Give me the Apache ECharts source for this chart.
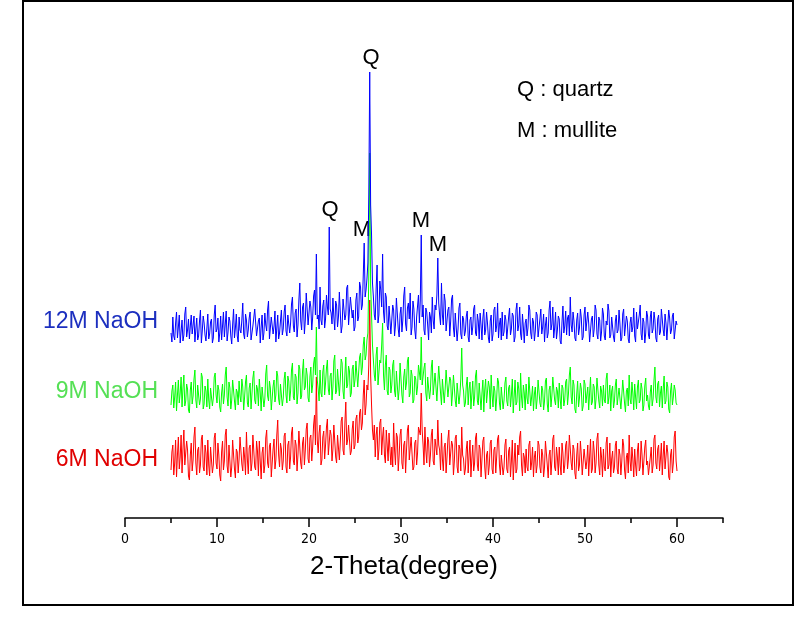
<!DOCTYPE html>
<html>
<head>
<meta charset="utf-8">
<script src="https://cdn.jsdelivr.net/npm/echarts@6/dist/echarts.min.js"></script>
<style>
html,body{margin:0;padding:0;background:#fff;}
#chart{width:795px;height:627px;}
</style>
</head>
<body>
<div id="chart"></div>
<script>
// Sampling of the scans: 2-theta from 5.0 to 60.0 deg, every 0.1 deg
const thetaStart = 5.0;
const thetaStep = 0.1;

// Intensity above each pattern's own baseline
const blue12M = [
12,3,28,9,5,22,33,7,18,30,2,14,25,4,10,31,38,8,15,26,6,19,30,11,20,29,3,16,27,5,9,24,35,2,14,29,22,10,4,17,
31,6,11,23,26,2,7,30,40,13,16,27,3,12,29,5,19,33,8,21,34,4,13,28,24,9,1,20,36,7,17,31,9,3,28,15,12,25,42,11,
6,31,25,8,15,27,33,5,4,19,21,36,38,9,10,24,27,2,18,30,5,12,32,20,14,35,44,6,8,28,26,11,19,34,3,17,30,6,12,24,
35,10,16,33,40,14,9,30,28,12,22,41,48,19,13,32,36,8,20,45,62,24,15,38,42,11,25,52,50,20,18,44,38,15,28,49,55,30,91,26,
30,16,58,25,20,39,45,17,26,50,38,30,118,36,32,21,47,28,15,44,40,18,28,53,55,12,19,46,44,25,30,57,60,20,22,48,50,27,35,14,
18,45,52,24,28,63,58,35,40,70,102,48,55,66,82,150,273,140,110,62,48,30,25,57,80,22,30,64,55,38,91,33,22,52,48,19,15,39,40,11,
12,40,35,9,20,47,45,16,8,31,38,13,25,49,58,21,14,37,42,26,52,10,18,44,36,15,6,28,30,50,22,45,110,28,40,15,10,37,33,20,
5,33,28,12,48,25,16,40,35,50,87,42,30,20,62,30,20,51,44,14,12,35,38,9,24,46,50,17,8,32,30,4,16,37,42,11,6,29,26,9,
14,29,34,8,3,25,28,10,18,36,40,12,9,31,24,6,32,20,5,27,36,10,15,33,22,7,2,24,30,4,11,35,38,13,19,42,7,21,27,5,
33,9,13,30,25,6,4,28,37,10,16,32,29,3,8,35,42,14,20,38,11,5,31,18,2,22,26,9,17,40,35,12,6,27,23,4,14,33,30,8,
9,26,36,11,18,31,3,20,28,7,12,35,44,15,21,38,7,17,33,6,15,29,26,4,1,23,39,12,19,34,10,27,30,9,48,20,13,33,24,7,
4,25,32,10,17,36,27,5,8,30,38,14,12,33,22,3,2,26,29,8,16,40,35,11,6,28,25,4,13,37,31,9,5,24,20,41,34,7,10,28,
26,8,3,24,30,12,15,35,21,4,7,31,36,9,11,29,24,6,2,22,28,13,18,37,9,3,33,16,14,30,40,11,5,27,23,2,12,34,29,10,
6,28,34,12,16,33,25,7,3,26,30,10,13,36,38,15,9,31,22,5,4,35,27,11,15,29,32,6,8,24,20
];
const green9M = [
10,24,30,7,18,33,4,20,35,12,22,38,8,27,40,9,14,31,26,5,2,25,33,11,19,36,45,15,7,30,28,10,16,42,38,6,11,29,24,8,
36,15,6,27,29,9,17,38,42,20,12,30,25,8,3,22,31,11,20,40,48,18,9,33,27,6,15,35,37,14,5,26,23,10,34,19,13,36,28,5,
18,33,40,12,8,27,32,6,21,37,44,15,11,30,26,9,36,22,4,28,30,8,16,41,50,19,14,34,27,5,7,29,35,13,20,44,39,16,10,31,
29,9,17,36,43,20,12,39,34,14,24,45,52,18,15,41,38,11,22,50,46,16,19,44,56,25,28,47,40,17,13,38,48,22,30,51,58,40,88,35,
26,14,45,22,18,43,50,20,32,47,55,26,20,39,42,15,28,54,60,21,24,46,48,19,35,56,52,24,16,40,58,27,30,49,44,18,22,46,50,28,
35,54,56,28,30,58,62,40,48,70,78,55,60,75,82,140,262,130,100,70,55,40,34,60,68,30,28,55,52,70,92,40,25,50,60,24,20,48,45,22,
30,50,55,24,18,44,42,15,26,52,50,20,12,38,46,25,32,54,58,18,22,45,40,12,15,39,36,20,28,50,48,35,78,30,30,47,52,22,14,38,
40,16,25,48,55,20,18,42,44,14,32,49,50,22,10,36,38,12,26,45,46,18,16,38,35,9,22,40,42,14,8,32,30,11,20,36,67,30,24,8,
12,30,38,10,26,33,6,20,34,9,18,39,45,14,10,32,30,5,22,35,3,25,36,12,14,34,28,6,40,20,8,29,24,4,17,37,33,12,5,28,
27,6,15,32,38,14,9,27,30,8,20,36,2,19,35,10,13,33,26,4,42,18,7,30,22,5,31,17,11,38,36,9,18,29,4,21,28,6,16,35,
33,12,8,29,25,5,14,34,37,11,3,25,29,8,19,38,40,15,10,28,24,7,32,16,6,30,27,9,15,33,36,10,21,40,48,18,11,35,30,6,
2,21,34,8,17,32,26,4,9,35,31,12,20,28,5,22,38,10,13,31,28,6,16,37,35,14,7,29,24,9,30,15,12,36,42,11,18,30,4,24,
29,7,14,30,36,10,8,27,25,6,19,35,33,12,3,24,27,9,40,16,11,33,22,5,31,18,6,28,35,12,15,32,26,4,10,29,37,14,20,9,
5,23,30,9,16,35,48,18,12,31,34,8,22,29,7,26,39,11,14,33,28,6,2,24,32,10,18,30,25,12,10
];
const red6M = [
15,33,40,10,22,45,8,30,48,16,28,50,12,36,55,20,18,44,35,9,5,30,42,14,25,48,58,22,10,35,38,12,20,46,50,18,14,40,32,10,
45,20,9,38,36,12,20,47,52,22,16,42,30,10,4,33,44,15,24,50,56,19,12,40,38,8,18,45,47,16,7,36,33,12,26,48,50,21,14,38,
28,10,53,26,11,37,40,14,22,50,48,18,15,44,34,9,44,24,6,32,38,12,20,47,55,22,17,39,42,8,10,36,46,16,25,50,65,30,18,42,
36,15,24,49,52,18,12,40,44,16,28,52,58,24,20,45,40,14,30,54,55,22,16,42,48,20,35,56,62,26,22,47,50,24,38,60,70,40,108,45,
32,52,60,20,25,48,54,26,40,58,66,30,28,55,50,24,36,60,62,28,22,50,52,25,42,64,68,35,30,62,83,40,45,60,58,30,34,56,64,36,
40,66,70,42,48,72,76,55,62,90,105,70,80,100,95,120,185,110,80,55,45,60,28,50,58,25,36,62,66,30,48,58,30,22,55,40,24,52,50,20,
38,18,62,35,20,52,48,14,30,50,56,22,16,40,44,12,35,55,60,25,26,48,50,15,18,42,45,20,32,58,54,50,92,55,40,20,58,35,22,48,
44,18,30,50,56,24,20,46,48,30,65,40,35,15,52,26,14,38,42,12,28,46,55,20,18,44,40,10,24,47,50,18,12,40,36,14,58,30,26,10,
16,36,44,12,30,45,8,26,40,14,22,47,52,20,14,40,36,8,26,44,48,18,6,30,34,10,20,42,45,16,11,35,38,12,28,46,50,20,10,30,
32,10,18,40,46,16,12,34,38,8,24,45,5,24,42,12,16,40,30,48,54,20,9,32,28,12,36,18,14,40,44,15,22,38,8,28,34,12,20,44,
40,18,12,36,30,8,18,44,46,20,7,30,35,10,24,46,50,18,14,38,28,10,38,20,10,42,32,12,20,40,44,16,26,50,48,22,15,40,36,12,
6,30,42,14,20,44,30,10,12,36,38,16,24,40,9,28,46,12,16,44,34,12,22,46,52,20,10,38,28,8,36,18,14,42,48,16,20,42,8,26,
34,12,18,40,44,16,11,36,30,10,24,46,40,15,6,28,32,12,50,24,14,38,26,8,36,20,9,34,42,14,18,44,30,10,12,38,45,20,24,10,
8,28,38,12,20,46,50,22,16,36,40,14,26,42,10,30,44,16,18,40,32,8,5,30,36,12,22,48,54,24,14
];

// Vertical stacking offsets of the three patterns
const offset12M = 173;
const offset9M = 103;
const offset6M = 33;

const seriesNames = ['12M NaOH', '9M NaOH', '6M NaOH'];
const xTickValues = [0, 10, 20, 30, 40, 50, 60];
const xMinorTickValues = [5, 15, 25, 35, 45, 55, 65];
const peakLabels = ['Q', 'Q', 'M', 'M', 'M'];
const legendNotes = ['Q : quartz', 'M : mullite'];

function build(vals, off) {
  return vals.map((v, i) => [+(thetaStart + i * thetaStep).toFixed(1), v + off]);
}

const FONT = 'Liberation Sans, Arial, sans-serif';
const chart = echarts.init(document.getElementById('chart'), null, {renderer: 'canvas'});

const lineSeries = (name, data, color, z) => ({
  name, type: 'line', data, showSymbol: false, symbol: 'none',
  lineStyle: {color, width: 1}, itemStyle: {color},
  silent: true, animation: false, sampling: null, z,
  xAxisIndex: 0, yAxisIndex: 0
});

chart.setOption({
  backgroundColor: '#ffffff',
  animation: false,
  grid: {left: 125, right: 72, top: 58, bottom: 109, containLabel: false},
  xAxis: [
    {
      type: 'value', min: 0, max: 65, position: 'bottom',
      axisLine: {show: true, lineStyle: {color: '#000', width: 1.5}},
      axisTick: {show: true, inside: false, length: 9, customValues: xTickValues, lineStyle: {color: '#000', width: 1.5}},
      axisLabel: {show: true, customValues: xTickValues, margin: 14, color: '#000', fontSize: 14, fontFamily: 'Liberation Sans Narrow, DejaVu Sans Condensed, Arial, sans-serif'},
      splitLine: {show: false}
    },
    {
      type: 'value', min: 0, max: 65, position: 'bottom', offset: 0,
      axisLine: {show: false},
      axisTick: {show: true, inside: false, length: 5, customValues: xMinorTickValues, lineStyle: {color: '#000', width: 1.5}},
      axisLabel: {show: false},
      splitLine: {show: false}
    }
  ],
  yAxis: {type: 'value', min: 0, max: 460, show: false, splitLine: {show: false}},
  series: [
    lineSeries(seriesNames[2], build(red6M, offset6M), '#ff0000', 2),
    lineSeries(seriesNames[1], build(green9M, offset9M), '#00ff00', 3),
    lineSeries(seriesNames[0], build(blue12M, offset12M), '#0000ff', 4)
  ],
  graphic: [
    {type: 'rect', shape: {x: 23, y: 1, width: 770, height: 604}, style: {fill: 'none', stroke: '#000', lineWidth: 2}, silent: true, z: 100},
    {type: 'text', x: 158, y: 322, style: {text: seriesNames[0], fill: '#1c2fbf', font: '23px ' + FONT, align: 'right', verticalAlign: 'middle'}},
    {type: 'text', x: 158, y: 392, style: {text: seriesNames[1], fill: '#55e055', font: '23px ' + FONT, align: 'right', verticalAlign: 'middle'}},
    {type: 'text', x: 158, y: 460, style: {text: seriesNames[2], fill: '#e00000', font: '23px ' + FONT, align: 'right', verticalAlign: 'middle'}},
    {type: 'text', x: 371, y: 58, style: {text: peakLabels[0], fill: '#000', font: '22px ' + FONT, align: 'center', verticalAlign: 'middle'}},
    {type: 'text', x: 330, y: 210, style: {text: peakLabels[1], fill: '#000', font: '22px ' + FONT, align: 'center', verticalAlign: 'middle'}},
    {type: 'text', x: 362, y: 230, style: {text: peakLabels[2], fill: '#000', font: '22px ' + FONT, align: 'center', verticalAlign: 'middle'}},
    {type: 'text', x: 421, y: 221, style: {text: peakLabels[3], fill: '#000', font: '22px ' + FONT, align: 'center', verticalAlign: 'middle'}},
    {type: 'text', x: 438, y: 245, style: {text: peakLabels[4], fill: '#000', font: '22px ' + FONT, align: 'center', verticalAlign: 'middle'}},
    {type: 'text', x: 517, y: 90, style: {text: legendNotes[0], fill: '#000', font: '22px ' + FONT, align: 'left', verticalAlign: 'middle'}},
    {type: 'text', x: 517, y: 131, style: {text: legendNotes[1], fill: '#000', font: '22px ' + FONT, align: 'left', verticalAlign: 'middle'}},
    {type: 'text', x: 404, y: 567, style: {text: '2-Theta(degree)', fill: '#000', font: '26px ' + FONT, align: 'center', verticalAlign: 'middle'}}
  ]
});
</script>
</body>
</html>
